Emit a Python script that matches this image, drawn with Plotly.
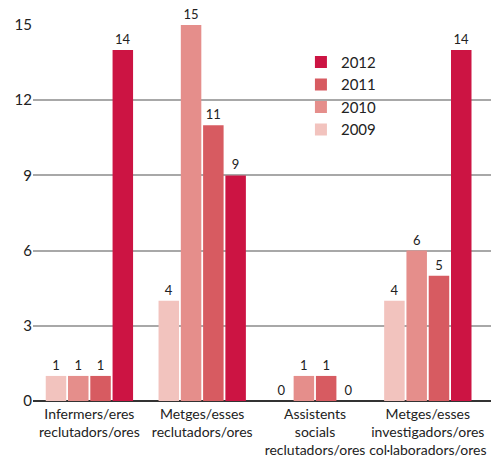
import plotly.graph_objects as go

categories = ["Infermers/eres<br>reclutadors/ores",
              "Metges/esses<br>reclutadors/ores",
              "Assistents<br>socials<br>reclutadors/ores",
              "Metges/esses<br>investigadors/ores<br>col·laboradors/ores"]
years = ["2009", "2010", "2011", "2012"]
values = {
    "2009": [1, 4, 0, 4],
    "2010": [1, 15, 1, 6],
    "2011": [1, 11, 1, 5],
    "2012": [14, 9, 0, 14],
}
colors = {"2009": "#f2c3be", "2010": "#e58e8b", "2011": "#d75b61", "2012": "#cc1443"}
yticks = [0, 3, 6, 9, 12, 15]

font_family = "Lato, 'Open Sans', sans-serif"

fig = go.Figure()
for y in years:
    fig.add_trace(go.Bar(
        name=y, x=list(range(len(categories))), y=values[y],
        marker=dict(color=colors[y], line=dict(width=0)),
        text=[str(v) for v in values[y]], textposition="outside",
        textfont=dict(size=13, color="#222", family=font_family),
        cliponaxis=False,
    ))

fig.update_layout(
    width=491, height=459,
    margin=dict(l=33, r=0, t=25, b=58),
    paper_bgcolor="white", plot_bgcolor="white",
    barmode="group", bargap=0.21, bargroupgap=0.08,
    font=dict(family=font_family, color="#222"),
    showlegend=True,
    legend=dict(x=0.585, y=0.945, xanchor="left", yanchor="top",
                traceorder="reversed", font=dict(size=15, color="#222"),
                itemwidth=30, tracegroupgap=0, bgcolor="rgba(0,0,0,0)"),
    xaxis=dict(tickmode="array", tickvals=list(range(len(categories))),
               ticktext=categories, range=[-0.5, 3.56], automargin=False,
               tickfont=dict(size=14, color="#222"), showgrid=False,
               ticklabelstandoff=3,
               ticks="", showline=False, zeroline=False),
    yaxis=dict(tickmode="array", tickvals=yticks, range=[0, 15], automargin=False,
               tickfont=dict(size=15, color="#222"),
               showgrid=True, gridcolor="#a8a8a8", gridwidth=1.5,
               zeroline=True, zerolinecolor="#333", zerolinewidth=2,
               showline=False, ticks=""),
)

fig.write_html("out.html", config={"displayModeBar": False},
               post_script="document.body.style.margin='0';document.body.style.overflow='hidden';")
